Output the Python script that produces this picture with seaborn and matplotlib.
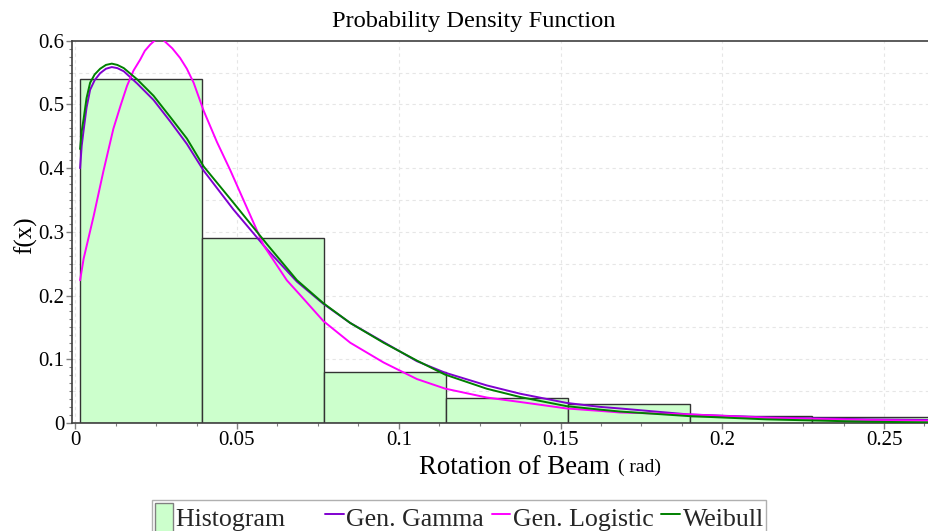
import numpy as np
import pandas as pd
import matplotlib
matplotlib.use("Agg")
import matplotlib.pyplot as plt
from matplotlib.ticker import MultipleLocator
from matplotlib.patches import Patch
from matplotlib.lines import Line2D
import seaborn as sns

# ---------------- data ----------------
bin_edges = [0.0015, 0.0392, 0.0769, 0.1146, 0.1523, 0.1900, 0.2277, 0.2654]
hist_heights = [0.540, 0.290, 0.0806, 0.0398, 0.0305, 0.0116, 0.0098]

gamma_x = [0.0015, 0.0020, 0.0026, 0.0035, 0.0046, 0.0060, 0.0077, 0.0095, 0.0113,
           0.0130, 0.0150, 0.0191, 0.0242, 0.0294,
           0.0345, 0.0397, 0.0489, 0.0592, 0.0685, 0.0767, 0.0850, 0.0953, 0.1056,
           0.1143, 0.1272, 0.1375, 0.1519, 0.1622, 0.1684, 0.1895, 0.2137, 0.2447, 0.2639]
gamma_y = [0.400, 0.435, 0.460, 0.495, 0.523, 0.538, 0.549, 0.556, 0.5586,
           0.557, 0.552, 0.533, 0.507, 0.473,
           0.438, 0.396, 0.335, 0.273, 0.222, 0.187, 0.157, 0.127, 0.097,
           0.079, 0.059, 0.046, 0.0315, 0.0253, 0.0228, 0.0135, 0.0088, 0.0057, 0.0047]

logis_x = [0.0015, 0.0026, 0.0057, 0.0087, 0.0118, 0.0140, 0.0160, 0.0180, 0.0201,
           0.0215, 0.0232, 0.0245, 0.0258, 0.0270, 0.0283, 0.0300, 0.0324, 0.0345,
           0.0366, 0.0397, 0.0438, 0.0479, 0.0520, 0.0582, 0.0654,
           0.0695, 0.0767, 0.0850, 0.0953, 0.1056, 0.1143, 0.1272, 0.1375, 0.1519,
           0.1622, 0.1684, 0.1895, 0.2137, 0.2447, 0.2639]
logis_y = [0.224, 0.258, 0.325, 0.395, 0.462, 0.498, 0.529, 0.553, 0.5705,
           0.584, 0.594, 0.600, 0.603, 0.602, 0.596, 0.588, 0.573, 0.556,
           0.534, 0.490, 0.441, 0.397, 0.350, 0.279, 0.224,
           0.201, 0.160, 0.126, 0.095, 0.069, 0.054, 0.040, 0.033, 0.0228,
           0.019, 0.0165, 0.0135, 0.0082, 0.0047, 0.0036]

weib_x = [0.0015, 0.0020, 0.0026, 0.0035, 0.0046, 0.0060, 0.0077, 0.0095, 0.0113,
          0.0130, 0.0150, 0.0191, 0.0242, 0.0294,
          0.0345, 0.0397, 0.0489, 0.0592, 0.0685, 0.0767, 0.0850, 0.0953, 0.1056,
          0.1143, 0.1272, 0.1375, 0.1519, 0.1622, 0.1684, 0.1895, 0.2137, 0.2447, 0.2639]
weib_y = [0.430, 0.458, 0.4775, 0.510, 0.534, 0.547, 0.556, 0.562, 0.564,
          0.562, 0.557, 0.5395, 0.5136, 0.480,
          0.4465, 0.4026, 0.3457, 0.281, 0.2243, 0.188, 0.157, 0.126, 0.098,
          0.076, 0.0538, 0.0408, 0.0264, 0.021, 0.018, 0.0109, 0.0057, 0.002, 0.001]

x_ticks = [0, 0.05, 0.1, 0.15, 0.2, 0.25]
x_ticklabels = ["0", "0.05", "0.1", "0.15", "0.2", "0.25"]
y_ticks = [0, 0.1, 0.2, 0.3, 0.4, 0.5, 0.6]
y_ticklabels = ["0", "0.1", "0.2", "0.3", "0.4", "0.5", "0.6"]
series_names = ["Gen. Gamma", "Gen. Logistic", "Weibull"]

# ---------------- style ----------------
sns.set_theme(style="white")
plt.rcParams["font.family"] = ["Liberation Serif", "DejaVu Serif"]

C_GAMMA = "#8000D0"
C_LOGIS = "#FF00FF"
C_WEIB = "#008000"
C_FILL = "#CCFFCC"
C_AX = "#404040"

fig = plt.figure(figsize=(9.29, 5.31), dpi=100)
ax = fig.add_axes([72 / 929, 1 - 423 / 531, 1 - 72 / 929, (423 - 40.7) / 531])

# grid (light dashed)
for gy in np.arange(0.05, 0.60, 0.05):
    ax.axhline(gy, color="#e6e6e6", lw=0.8, ls=(0, (3, 3)), zorder=0)
for gx in x_ticks:
    ax.axvline(gx, color="#e6e6e6", lw=0.8, ls=(0, (3, 3)), zorder=0)

# histogram
centers = [(a + b) / 2 for a, b in zip(bin_edges[:-1], bin_edges[1:])]
hdf = pd.DataFrame({"x": centers, "w": hist_heights})
sns.histplot(data=hdf, x="x", weights="w", bins=bin_edges, stat="count",
             color=C_FILL, alpha=1.0, edgecolor="#333333", linewidth=1.0,
             ax=ax, zorder=1)

# curves
curves = pd.concat([
    pd.DataFrame({"x": gamma_x, "y": gamma_y, "s": series_names[0]}),
    pd.DataFrame({"x": logis_x, "y": logis_y, "s": series_names[1]}),
    pd.DataFrame({"x": weib_x, "y": weib_y, "s": series_names[2]}),
])
sns.lineplot(data=curves, x="x", y="y", hue="s", sort=False, estimator=None,
             palette={series_names[0]: C_GAMMA, series_names[1]: C_LOGIS,
                      series_names[2]: C_WEIB},
             linewidth=1.4, ax=ax, legend=False, zorder=3)

ax.set_xlim(-0.001, 0.2639)
ax.set_ylim(0, 0.593)

ax.set_xticks(x_ticks)
ax.set_xticklabels(x_ticklabels)
ax.set_yticks(y_ticks)
ax.set_yticklabels(y_ticklabels)
ax.xaxis.set_minor_locator(MultipleLocator(0.0125))
ax.yaxis.set_minor_locator(MultipleLocator(0.0125))
ax.tick_params(axis="both", which="major", direction="out", length=4, width=1,
               color="#808080", labelsize=15, pad=1.5, labelcolor="black")
ax.tick_params(axis="both", which="minor", direction="out", length=2.5, width=0.8,
               color="#808080")
ax.tick_params(axis="x", bottom=True, which="both")
ax.tick_params(axis="y", left=True, which="both")

for sp in ax.spines.values():
    sp.set_color(C_AX)
    sp.set_linewidth(1.2)

ax.set_xlabel("")
ax.set_ylabel("")
# Title and axis labels
fig.text(474 / 929, 1 - 22 / 531, "Probability Density Function", ha="center",
         va="center", fontsize=17.6, color="black")
fig.text(26 / 929, 1 - 235 / 531, "f(x)", ha="center", va="center",
         rotation=90, fontsize=18, color="black")
fig.text(514 / 929, 1 - 467 / 531, "Rotation of Beam", ha="center",
         va="center", fontsize=19.4, color="black")
fig.text(618 / 929, 1 - 467 / 531, "( rad)", ha="left", va="center",
         fontsize=14, color="black")

# legend
handles = [
    Patch(facecolor=C_FILL, edgecolor="#808080", linewidth=1.0),
    Line2D([0], [0], color=C_GAMMA, lw=1.4),
    Line2D([0], [0], color=C_LOGIS, lw=1.4),
    Line2D([0], [0], color=C_WEIB, lw=1.4),
]
labels = ["Histogram     "] + series_names
leg = fig.legend(handles, labels, loc="upper left",
                 bbox_to_anchor=(152 / 929, 1 - 500 / 531), ncol=4,
                 fontsize=18.6, frameon=True, fancybox=False, framealpha=1,
                 edgecolor="#b0b0b0", handlelength=0.72, handleheight=1.35,
                 handletextpad=0.1, columnspacing=0.3, borderpad=0.1,
                 borderaxespad=0)
leg.get_frame().set_linewidth(1.0)

fig.savefig("out.png", dpi=100)
